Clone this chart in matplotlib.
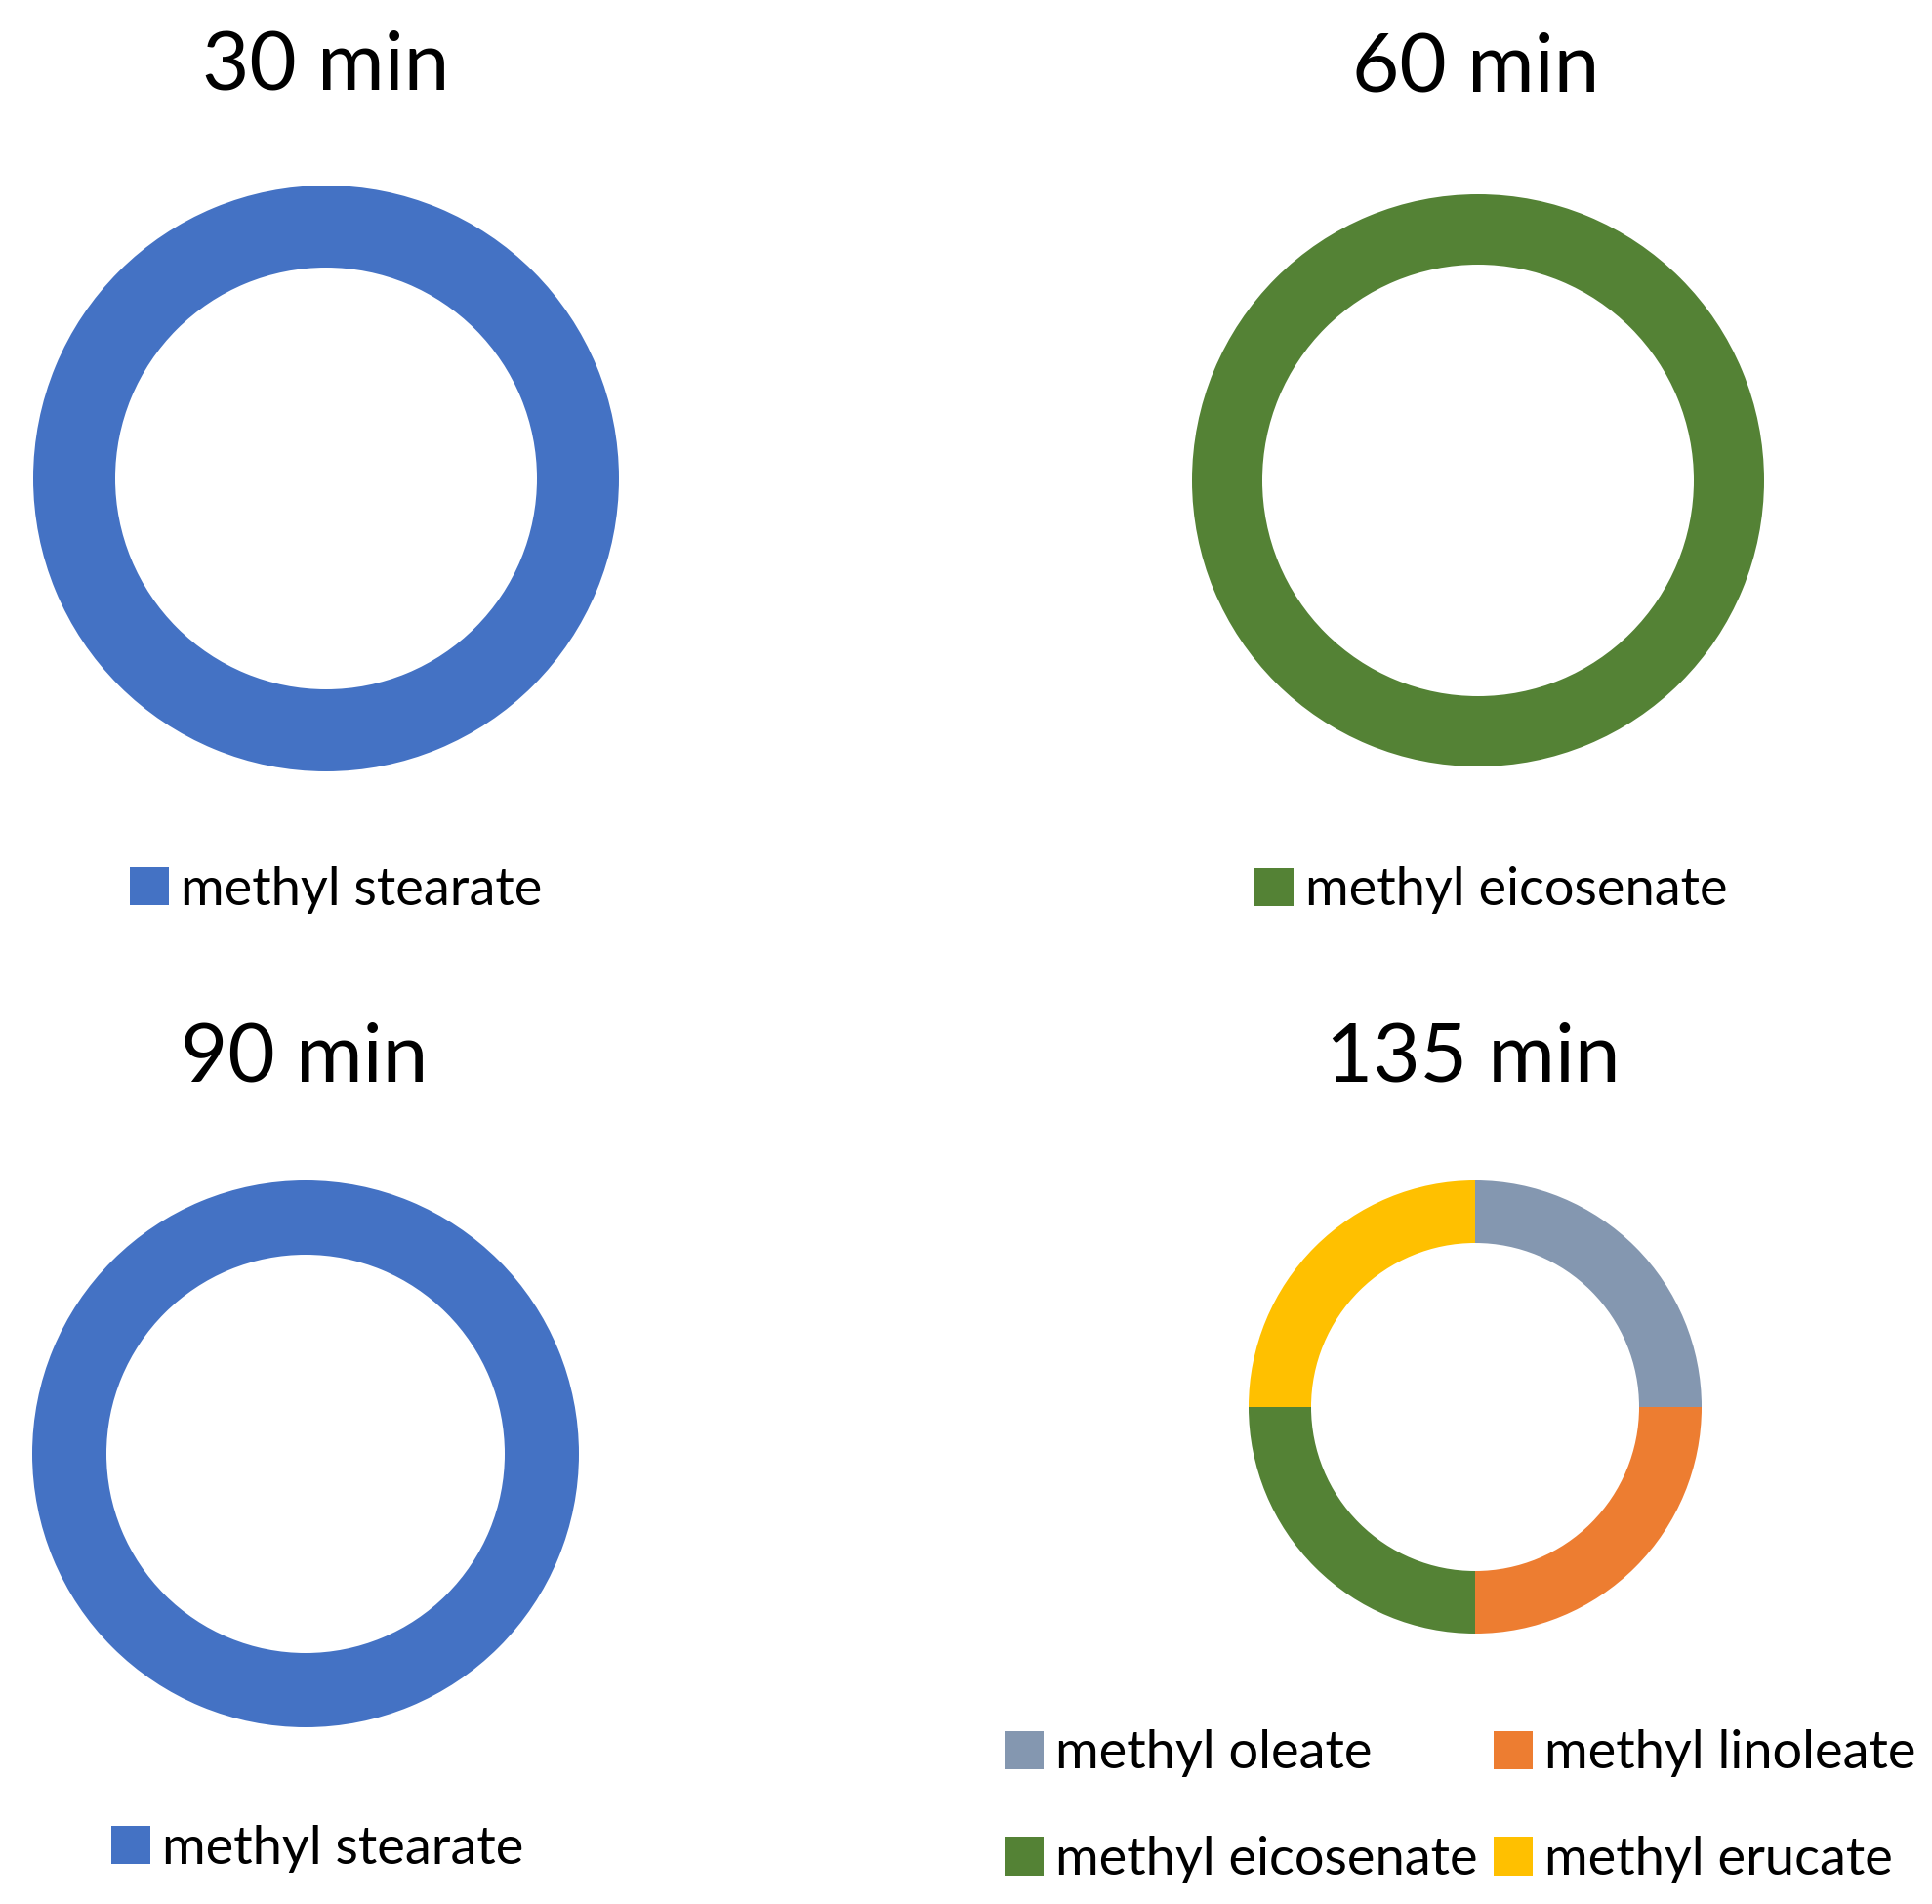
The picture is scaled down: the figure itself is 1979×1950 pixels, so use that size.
import matplotlib.pyplot as plt

plt.rcParams['font.family'] = ['Lato', 'DejaVu Sans']

W, H = 1979, 1950

# composition at each sampling time (share of each ester)
titles = ["30 min", "60 min", "90 min", "135 min"]
labels_30 = ["methyl stearate"]
values_30 = [100]
labels_60 = ["methyl eicosenate"]
values_60 = [100]
labels_90 = ["methyl stearate"]
values_90 = [100]
labels_135 = ["methyl oleate", "methyl linoleate", "methyl eicosenate", "methyl erucate"]
values_135 = [25, 25, 25, 25]

colors_30 = ["#4472C4"]
colors_60 = ["#548235"]
colors_90 = ["#4472C4"]
colors_135 = ["#8497B0", "#ED7D31", "#548235", "#FFC000"]

fig = plt.figure(figsize=(W / 100, H / 100), dpi=100)


def px_axes(cx, cy, R):
    return fig.add_axes([(cx - R) / W, 1 - (cy + R) / H, 2 * R / W, 2 * R / H])


def donut(cx, cy, R, r, values, colors):
    ax = px_axes(cx, cy, R)
    wedges, _ = ax.pie(values, colors=colors, startangle=90, counterclock=False,
                       radius=1, wedgeprops=dict(width=1 - r / R, linewidth=0))
    ax.set_xlim(-1, 1)
    ax.set_ylim(-1, 1)
    ax.axis('off')
    return ax, wedges


panels = [
    # cx, cy, R, r, title pos, legend anchor
    (334, 490, 300, 216, (334, 68), (133, 911), labels_30, values_30, colors_30, 1),
    (1514, 492, 293, 221, (1512, 71), (1285, 912), labels_60, values_60, colors_60, 1),
    (313, 1489, 280, 204, (312, 1085), (114, 1893), labels_90, values_90, colors_90, 1),
    (1511, 1441, 232, 168, (1509, 1085), (1029, 1850), labels_135, values_135, colors_135, 2),
]

for (cx, cy, R, r, tpos, lpos, labels, values, colors, ncol), title in zip(panels, titles):
    ax, wedges = donut(cx, cy, R, r, values, colors)
    fig.text(tpos[0] / W, 1 - tpos[1] / H, title, ha='center', va='center',
             fontsize=60, color='black')
    handles = list(wedges)
    names = list(labels)
    if ncol == 2:
        # legend fills row by row in the original
        order = [0, 2, 1, 3]
        handles = [handles[i] for i in order]
        names = [names[i] for i in order]
    fig.legend(handles, names, loc='center left',
               bbox_to_anchor=(lpos[0] / W, 1 - lpos[1] / H),
               frameon=False, fontsize=39, ncol=ncol, borderpad=0,
               handlelength=0.74, handleheight=0.74, handletextpad=0.22,
               columnspacing=0.3, labelspacing=1.1, borderaxespad=0)

fig.savefig("out.png", dpi=100, facecolor='white')
